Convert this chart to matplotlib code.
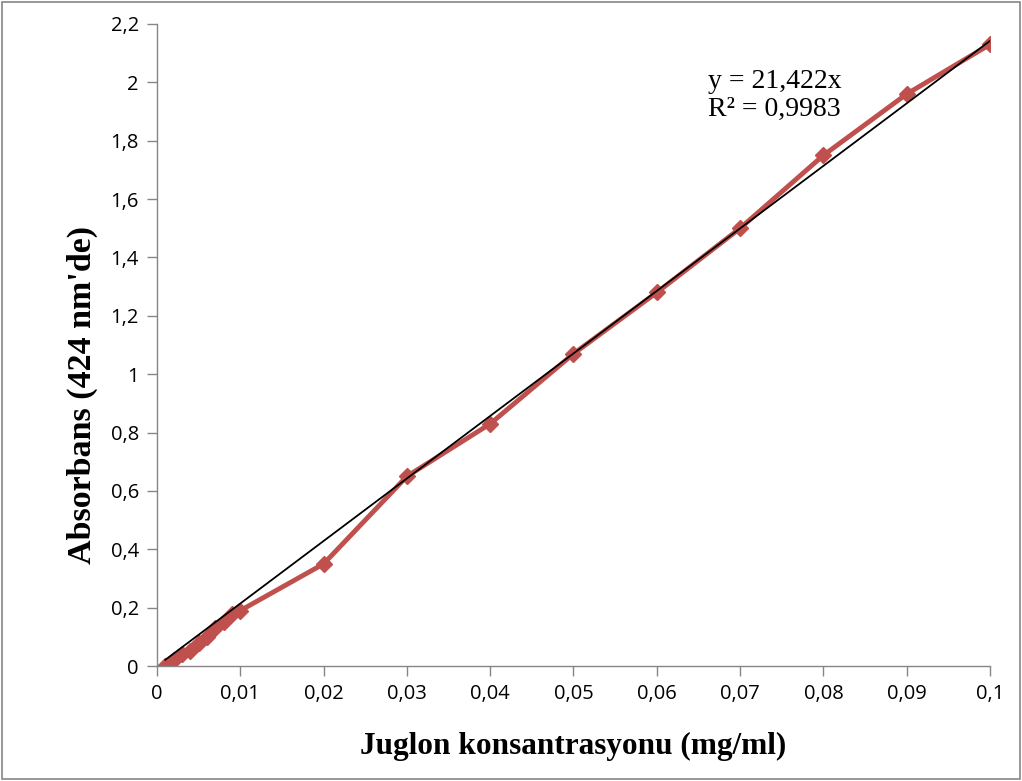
import numpy as np
import matplotlib
matplotlib.use("Agg")
import matplotlib.pyplot as plt
from matplotlib.ticker import FuncFormatter
from matplotlib.patches import Rectangle

# data
konsantrasyon = [0.001, 0.002, 0.003, 0.004, 0.005, 0.006, 0.007, 0.008, 0.009, 0.01,
                 0.02, 0.03, 0.04, 0.05, 0.06, 0.07, 0.08, 0.09, 0.1]
absorbans = [0.0, 0.02, 0.04, 0.05, 0.08, 0.10, 0.13, 0.15, 0.18, 0.19,
             0.35, 0.65, 0.83, 1.07, 1.28, 1.50, 1.75, 1.96, 2.13]
egim = 21.422
r2 = 0.9983

x_ticks = [0, 0.01, 0.02, 0.03, 0.04, 0.05, 0.06, 0.07, 0.08, 0.09, 0.1]
y_ticks = [0, 0.2, 0.4, 0.6, 0.8, 1.0, 1.2, 1.4, 1.6, 1.8, 2.0, 2.2]

def virgul(v, pos):
    s = ("%.2f" % v).rstrip("0").rstrip(".")
    return s.replace(".", ",")

fig = plt.figure(figsize=(10.22, 7.81), dpi=100)
ax = fig.add_axes([0.1536, 0.1472, 0.8151, 0.8221])

ax.plot(konsantrasyon, absorbans, color="#C0504D", linewidth=3.5,
        marker="D", markersize=8, zorder=2)
xt = np.array([konsantrasyon[0], konsantrasyon[-1]])
ax.plot(xt, egim * xt, color="black", linewidth=1.3, zorder=3)

ax.set_xlim(0, 0.1)
ax.set_ylim(0, 2.2)
ax.set_xticks(x_ticks)
ax.set_yticks(y_ticks)
ax.xaxis.set_major_formatter(FuncFormatter(virgul))
ax.yaxis.set_major_formatter(FuncFormatter(virgul))

for s in ["top", "right"]:
    ax.spines[s].set_visible(False)
for s in ["left", "bottom"]:
    ax.spines[s].set_color("#868686")
    ax.spines[s].set_linewidth(1.0)
ax.tick_params(direction="out", length=7, width=1.0, color="#868686",
               labelsize=14.5, pad=6)
for lab in ax.get_xticklabels() + ax.get_yticklabels():
    lab.set_fontfamily("Open Sans")

ax.set_xlabel("Juglon konsantrasyonu (mg/ml)", fontfamily="Liberation Serif",
              fontweight="bold", fontsize=22.5)
ax.set_ylabel("Absorbans (424 nm'de)", fontfamily="Liberation Serif",
              fontweight="bold", fontsize=24.5)
ax.xaxis.set_label_coords(0.5, -0.103)
ax.yaxis.set_label_coords(-0.071, 0.422)

ax.text(0.0661, 1.955, "y = 21,422x\nR\u00b2 = 0,9983", fontfamily="Liberation Serif",
        fontsize=20, linespacing=1.2, va="center", ha="left")

fig.patches.append(Rectangle((0.002, 0.002), 0.996, 0.996, transform=fig.transFigure,
                             fill=False, edgecolor="#868686", linewidth=1.2))

fig.savefig("out.png", dpi=100)
